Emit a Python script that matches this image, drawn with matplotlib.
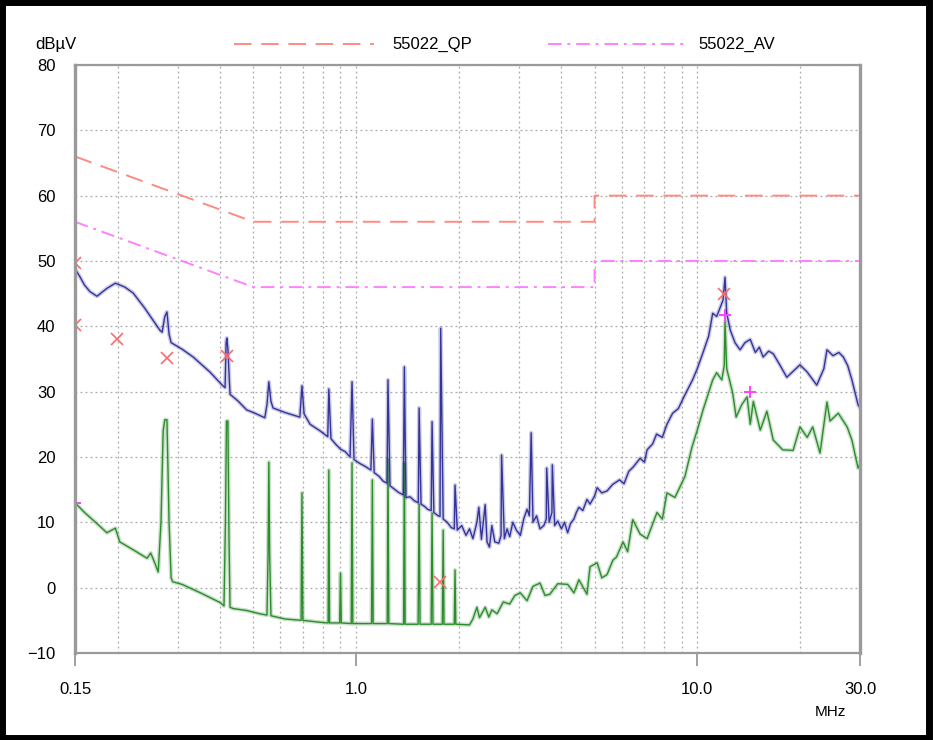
import matplotlib.pyplot as plt
from matplotlib.lines import Line2D
from matplotlib.patches import Rectangle

# Limites EN55022 (classe B)
lim_freq = [0.15, 0.5, 5.0, 5.0, 30.0]
lim_qp = [66, 56, 56, 60, 60]
lim_av = [56, 46, 46, 50, 50]

# Varredura de pico (azul)
pk_freq = [0.150, 0.155, 0.160, 0.166, 0.174, 0.186, 0.197, 0.210, 0.222, 0.240,
           0.255, 0.266, 0.270, 0.275, 0.279, 0.283, 0.287, 0.309, 0.333, 0.373,
           0.405, 0.413, 0.416, 0.418, 0.421, 0.427, 0.450, 0.478, 0.500, 0.540,
           0.548, 0.555, 0.563, 0.571, 0.619, 0.684, 0.694, 0.704, 0.733, 0.784,
           0.826, 0.832, 0.844, 0.870, 0.900, 0.930, 0.960, 0.973, 0.986, 1.026,
           1.060, 1.105, 1.116, 1.130, 1.170, 1.200, 1.232, 1.240, 1.257, 1.300,
           1.330, 1.375, 1.385, 1.400, 1.440, 1.480, 1.522, 1.530, 1.550, 1.590,
           1.620, 1.660, 1.670, 1.690, 1.740, 1.762, 1.770, 1.800, 1.850, 1.900,
           1.940, 1.950, 1.980, 2.040, 2.100, 2.150, 2.200, 2.260, 2.290, 2.330,
           2.390, 2.420, 2.460, 2.500, 2.550, 2.620, 2.660, 2.670, 2.720, 2.770,
           2.820, 2.880, 2.950, 3.030, 3.100, 3.170, 3.220, 3.260, 3.300, 3.380,
           3.460, 3.550, 3.610, 3.620, 3.680, 3.750, 3.760, 3.820, 3.900, 4.000,
           4.080, 4.170, 4.250, 4.350, 4.420, 4.500, 4.620, 4.750, 4.850, 5.000,
           5.090, 5.250, 5.440, 5.650, 5.920, 6.100, 6.300, 6.500, 6.800, 7.000,
           7.130, 7.400, 7.600, 7.900, 8.150, 8.470, 8.800, 9.200, 9.690, 10.00,
           10.40, 10.80, 11.10, 11.40, 11.60, 11.90, 12.06, 12.20, 12.50, 12.90,
           13.35, 13.80, 14.30, 14.80, 15.20, 15.60, 16.20, 16.70, 17.50, 18.30,
           19.00, 20.00, 21.00, 22.40, 23.50, 24.00, 25.00, 26.00, 26.80, 27.60,
           28.40, 29.60, 30.00]
pk_level = [48.8, 47.6, 46.3, 45.3, 44.6, 45.8, 46.6, 46.0, 45.1, 42.8,
            40.8, 39.4, 39.1, 41.5, 42.2, 38.8, 37.5, 36.5, 35.3, 33.0,
            31.0, 30.6, 37.5, 38.2, 36.5, 29.6, 28.6, 27.2, 26.8, 26.0,
            28.0, 31.5, 28.5, 27.5, 26.8, 26.1, 30.9, 26.6, 25.0, 24.0,
            23.1, 30.4, 22.8, 22.0, 21.2, 20.8, 20.0, 31.5, 19.6, 19.0,
            18.6, 18.0, 25.8, 17.6, 17.0, 16.3, 16.0, 31.8, 15.6, 15.0,
            14.6, 14.2, 33.8, 13.8, 13.9, 13.3, 13.0, 27.5, 12.8, 12.4,
            12.0, 11.8, 25.4, 11.5, 11.0, 10.9, 39.7, 10.5, 10.0, 9.2,
            9.0, 15.7, 8.8, 9.5, 8.0, 9.0, 7.5, 10.0, 12.3, 7.4,
            12.7, 7.0, 6.2, 9.5, 7.0, 6.8, 8.0, 20.3, 7.5, 9.0,
            7.8, 10.0, 8.8, 8.0, 10.5, 12.0, 11.0, 23.7, 10.0, 11.0,
            9.0, 9.5, 10.5, 18.3, 10.0, 11.5, 18.8, 9.5, 10.2, 9.0,
            10.0, 8.4, 9.8, 10.5, 11.5, 12.3, 11.8, 13.5, 12.8, 14.0,
            15.3, 14.5, 14.8, 15.8, 16.5, 15.9, 17.8, 18.5, 19.8, 19.2,
            21.1, 22.0, 23.5, 23.0, 25.0, 26.7, 27.4, 29.5, 31.8, 33.5,
            36.0, 38.5, 42.0, 41.5, 42.5, 44.0, 47.5, 42.0, 39.4, 37.5,
            36.4, 37.5, 38.0, 36.0, 36.8, 35.3, 36.2, 35.8, 34.0, 32.2,
            33.0, 34.1, 33.0, 31.0, 33.5, 36.4, 35.5, 36.0, 35.3, 34.0,
            31.8, 28.0, 27.5]

# Varredura de média (verde)
av_freq = [0.150, 0.160, 0.174, 0.186, 0.197, 0.203, 0.222, 0.244, 0.250, 0.256,
           0.263, 0.268, 0.272, 0.275, 0.279, 0.283, 0.287, 0.290, 0.309, 0.350,
           0.400, 0.410, 0.414, 0.417, 0.421, 0.424, 0.427, 0.436, 0.478, 0.522,
           0.548, 0.552, 0.555, 0.558, 0.563, 0.619, 0.690, 0.694, 0.698, 0.784,
           0.828, 0.832, 0.836, 0.895, 0.900, 0.905, 0.968, 0.973, 0.978, 1.110,
           1.116, 1.122, 1.234, 1.240, 1.247, 1.378, 1.385, 1.392, 1.520, 1.530,
           1.540, 1.660, 1.670, 1.680, 1.790, 1.800, 1.810, 1.940, 1.950, 1.960,
           2.150, 2.200, 2.260, 2.300, 2.390, 2.450, 2.500, 2.590, 2.700, 2.820,
           2.920, 3.030, 3.170, 3.300, 3.460, 3.580, 3.700, 3.900, 4.170, 4.350,
           4.500, 4.750, 4.850, 5.090, 5.250, 5.440, 5.660, 5.800, 6.060, 6.250,
           6.470, 6.800, 7.130, 7.620, 7.900, 8.150, 8.600, 9.200, 9.650, 10.00,
           10.40, 11.10, 11.40, 11.80, 12.00, 12.06, 12.20, 12.70, 13.00, 13.50,
           14.00, 14.30, 14.60, 15.30, 16.00, 16.70, 17.80, 19.10, 20.00, 21.00,
           21.80, 22.90, 24.00, 24.50, 25.90, 27.50, 28.40, 29.60, 30.00]
av_level = [13.0, 11.5, 9.8, 8.4, 9.1, 7.0, 5.8, 4.5, 5.3, 4.0,
            2.4, 10.0, 24.0, 25.7, 25.7, 10.0, 1.5, 0.9, 0.5, -0.8,
            -2.3, -2.8, 10.0, 25.5, 25.5, 8.0, -3.0, -3.2, -3.5, -4.0,
            -4.2, 5.0, 19.2, 5.0, -4.3, -4.8, -5.0, 14.5, -5.0, -5.3,
            -5.4, 18.0, -5.4, -5.4, 2.2, -5.4, -5.5, 19.1, -5.5, -5.5,
            16.5, -5.5, -5.5, 19.7, -5.5, -5.6, 19.1, -5.6, -5.6, 12.8,
            -5.6, -5.6, 11.4, -5.6, -5.6, 8.8, -5.6, -5.6, 2.7, -5.6,
            -5.7, -4.8, -3.0, -4.6, -3.0, -4.5, -3.4, -4.0, -2.2, -2.5,
            -1.2, -0.8, -2.0, 0.2, 0.7, -1.2, -1.0, 0.6, 0.5, -0.8,
            1.2, -1.0, 3.2, 3.8, 1.5, 2.0, 4.2, 4.7, 7.0, 5.5,
            10.4, 8.2, 7.5, 11.5, 10.5, 14.5, 13.8, 17.0, 21.5, 24.1,
            27.2, 31.8, 32.9, 31.8, 34.0, 40.7, 33.5, 29.8, 26.1, 28.0,
            29.2, 25.0, 28.5, 24.1, 27.0, 22.6, 21.1, 21.0, 24.6, 23.0,
            24.6, 20.6, 28.4, 25.5, 26.7, 24.6, 22.6, 18.3, 19.0]

# Pontos medidos
qp_freq = [0.150, 0.150, 0.199, 0.279, 0.418, 1.760, 12.00]
qp_level = [49.7, 40.2, 38.1, 35.2, 35.5, 0.9, 44.9]
avm_freq = [0.150, 12.06, 14.30]
avm_level = [13.0, 41.7, 30.0]

plt.rcParams['font.family'] = ['Liberation Sans', 'DejaVu Sans']

fig = plt.figure(figsize=(9.34, 7.40), dpi=100)
ax = fig.add_axes([0.0803, 0.1176, 0.8405, 0.7946])

# Grade pontilhada
ax.set_xscale('log')
ax.set_xlim(0.15, 30)
ax.set_ylim(-10, 80)
ax.set_yticks(range(-10, 81, 10))
ax.set_xticks([0.15, 1.0, 10.0, 30.0])
ax.set_xticklabels(['0.15', '1.0', '10.0', '30.0'])
ax.set_xticks([0.2, 0.3, 0.4, 0.5, 0.6, 0.7, 0.8, 0.9, 2, 3, 4, 5, 6, 7, 8, 9, 20], minor=True)
ax.xaxis.set_minor_formatter(plt.NullFormatter())
ax.grid(True, which='both', axis='x', color='#a8a8a8', linestyle=(0, (1.5, 2.5)), linewidth=0.9)
ax.grid(True, which='major', axis='y', color='#a8a8a8', linestyle=(0, (1.5, 2.5)), linewidth=0.9)
ax.set_axisbelow(True)

ax.tick_params(axis='x', which='major', direction='out', length=9, width=1.2,
               color='#909090', labelsize=12, pad=12)
ax.tick_params(axis='x', which='minor', length=0)
ax.tick_params(axis='y', length=0, labelsize=12, pad=14)
for s in ax.spines.values():
    s.set_color('#9a9a9a')
    s.set_linewidth(1.6)
ax.spines['left'].set_linewidth(2.4)
ax.spines['right'].set_linewidth(2.4)

# Curvas (com um halo claro, como no original)
ax.plot(av_freq, av_level, color='#2e8b2e', linewidth=3.0, alpha=0.25)
ax.plot(av_freq, av_level, color='#2e8b2e', linewidth=1.0)
ax.plot(pk_freq, pk_level, color='#34349a', linewidth=3.0, alpha=0.25)
ax.plot(pk_freq, pk_level, color='#34349a', linewidth=1.0)
ax.plot(lim_freq, lim_qp, color='#ff8a80', linewidth=1.4, linestyle=(0, (9, 5)))
ax.plot(lim_freq, lim_av, color='#ff80ff', linewidth=1.4, linestyle=(0, (7, 3, 1.5, 3)))
ax.plot(qp_freq, qp_level, 'x', color='#ff6a6a', markersize=8, markeredgewidth=1.2)
ax.plot(avm_freq, avm_level, '+', color='#ff40ff', markersize=8, markeredgewidth=1.4)

# Textos e legenda
fig.text(35 / 934, 1 - 45 / 740, 'dBµV', fontsize=12, va='center', ha='left')
fig.text(815 / 934, 1 - 712 / 740, 'MHz', fontsize=11, va='center', ha='left')
y_leg = 1 - 44 / 740
fig.add_artist(Line2D([234 / 934, 374 / 934], [y_leg, y_leg], color='#ff8a80',
                      linewidth=1.4, linestyle=(0, (9, 5))))
fig.text(392 / 934, y_leg, '55022_QP', fontsize=12, va='center', ha='left')
fig.add_artist(Line2D([548 / 934, 686 / 934], [y_leg, y_leg], color='#ff80ff',
                      linewidth=1.4, linestyle=(0, (7, 3, 1.5, 3))))
fig.text(698 / 934, y_leg, '55022_AV', fontsize=12, va='center', ha='left')

# Moldura preta
fig.add_artist(Rectangle((0.002, 0.003), 0.993, 0.994, transform=fig.transFigure,
                         fill=False, edgecolor='black', linewidth=5))

plt.savefig('out.png', dpi=100)
